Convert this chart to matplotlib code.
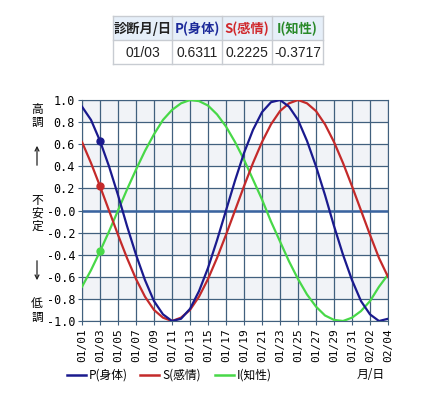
import matplotlib
matplotlib.use('Agg')
import matplotlib.pyplot as plt
import numpy as np

plt.rcParams['font.family'] = ['Noto Sans CJK JP', 'DejaVu Sans']

# 日付 (01/01 - 02/04)
dates = ['01/01', '01/02', '01/03', '01/04', '01/05', '01/06', '01/07', '01/08',
         '01/09', '01/10', '01/11', '01/12', '01/13', '01/14', '01/15', '01/16',
         '01/17', '01/18', '01/19', '01/20', '01/21', '01/22', '01/23', '01/24',
         '01/25', '01/26', '01/27', '01/28', '01/29', '01/30', '01/31', '02/01',
         '02/02', '02/03', '02/04']

# 身体 P
p_vals = [0.94, 0.82, 0.63, 0.40, 0.14, -0.14, -0.40, -0.63, -0.82, -0.94,
          -1.00, -0.98, -0.89, -0.73, -0.52, -0.27, 0.00, 0.27, 0.52, 0.73,
          0.89, 0.98, 1.00, 0.94, 0.82, 0.63, 0.40, 0.14, -0.14, -0.40,
          -0.63, -0.82, -0.94, -1.00, -0.98]
# 感情 S
s_vals = [0.62, 0.43, 0.22, 0.00, -0.22, -0.43, -0.62, -0.78, -0.90, -0.97,
          -1.00, -0.97, -0.90, -0.78, -0.62, -0.43, -0.22, 0.00, 0.22, 0.43,
          0.62, 0.78, 0.90, 0.97, 1.00, 0.97, 0.90, 0.78, 0.62, 0.43,
          0.22, 0.00, -0.22, -0.43, -0.60]
# 知性 I
i_vals = [-0.69, -0.54, -0.37, -0.19, 0.00, 0.19, 0.37, 0.54, 0.69, 0.82,
          0.91, 0.97, 1.00, 0.99, 0.95, 0.87, 0.76, 0.62, 0.46, 0.28,
          0.10, -0.10, -0.28, -0.46, -0.62, -0.76, -0.87, -0.95, -0.99, -1.00,
          -0.97, -0.91, -0.82, -0.69, -0.58]

diag_date = '01/03'
diag_vals = ['0.6311', '0.2225', '-0.3717']
headers = ['診断月/日', 'P(身体)', 'S(感情)', 'I(知性)']
header_colors = ['#222222', '#1c2a9a', '#d0282c', '#2a8a2a']
series_names = ['P(身体)', 'S(感情)', 'I(知性)']
series_colors = ['#1a1a8e', '#c42a2a', '#48d848']

W, H = 432, 400
fig = plt.figure(figsize=(W / 100, H / 100), dpi=100)

def fx(px):
    return px / W

def fy(py):
    return 1 - py / H

# 診断テーブル
col_x = [113, 172, 222, 272, 323]
row_y = [16, 40, 64]
tab = fig.add_axes([0, 0, 1, 1])
tab.set_xlim(0, W)
tab.set_ylim(H, 0)
tab.axis('off')
tab.add_patch(plt.Rectangle((col_x[0], row_y[0]), col_x[-1] - col_x[0],
                            row_y[1] - row_y[0], color='#e6eff9', lw=0))
for xx in col_x:
    tab.plot([xx, xx], [row_y[0], row_y[-1]], color='#c8ccd2', lw=1)
for yy in row_y:
    tab.plot([col_x[0], col_x[-1]], [yy, yy], color='#c8ccd2', lw=1)
row_vals = [diag_date] + diag_vals
for k in range(4):
    cx = (col_x[k] + col_x[k + 1]) / 2
    tab.text(cx, (row_y[0] + row_y[1]) / 2 + 1, headers[k], ha='center', va='center',
             fontsize=9.5, fontweight='bold', color=header_colors[k])
    tab.text(cx, (row_y[1] + row_y[2]) / 2 + 1, row_vals[k], ha='center', va='center',
             fontsize=10, color='#222222', family=['Liberation Sans'])

# グラフ本体
ax = fig.add_axes([fx(82), fy(321), fx(388) - fx(82), (321 - 100) / H])
x = np.arange(len(dates))
ax.set_xlim(0, len(dates) - 1)
ax.set_ylim(-1, 1)

grid_c = '#41607e'
yt = np.round(np.arange(-1.0, 1.01, 0.2), 1)
for j in range(10):
    lo = 1.0 - 0.2 * (j + 1)
    if j % 2 == 0:
        ax.axhspan(lo, lo + 0.2, color='#f1f3f7', lw=0, zorder=0)
for v in yt:
    ax.axhline(v, color=grid_c, lw=0.9, zorder=1)
for xi in range(0, len(dates), 2):
    ax.axvline(xi, color=grid_c, lw=0.9, zorder=1)
ax.axhline(0, color='#3a64a0', lw=1.8, zorder=2)

idx = dates.index(diag_date)
for vals, c in zip([i_vals, s_vals, p_vals], [series_colors[2], series_colors[1], series_colors[0]]):
    ax.plot(x, vals, color=c, lw=1.6, zorder=3)
    ax.plot(x[idx], vals[idx], 'o', color=c, ms=5, zorder=4)

for s in ax.spines.values():
    s.set_color(grid_c)

ax.set_yticks(yt)
ax.set_yticklabels(['%.1f' % v for v in yt], family='DejaVu Sans Mono', fontsize=8.5)
ax.set_xticks(x[::2])
ax.set_xticklabels(dates[::2], rotation=90, family='DejaVu Sans Mono', fontsize=8)
ax.tick_params(length=3, color=grid_c, pad=2)

# 左側の注記 (縦書き)
side_chars = [('高', 110), ('調', 122), ('不', 201), ('安', 213), ('定', 226),
              ('低', 304), ('調', 317)]
for ch, yy in side_chars:
    fig.text(fx(37), fy(yy), ch, ha='center', va='center', fontsize=8.5)
fig.add_artist(matplotlib.patches.FancyArrowPatch((fx(37), fy(168)), (fx(37), fy(143)),
               transform=fig.transFigure, arrowstyle='->', mutation_scale=7, lw=0.9, color='#222222'))
fig.add_artist(matplotlib.patches.FancyArrowPatch((fx(37), fy(258)), (fx(37), fy(283)),
               transform=fig.transFigure, arrowstyle='->', mutation_scale=7, lw=0.9, color='#222222'))

# 凡例
leg_x = [67, 140, 215]
for lx, name, c in zip(leg_x, series_names, series_colors):
    fig.add_artist(plt.Line2D([fx(lx), fx(lx + 19)], [fy(375), fy(375)], color=c, lw=1.8,
                              transform=fig.transFigure))
    fig.text(fx(lx + 22), fy(375), name, ha='left', va='center', fontsize=8.5)
fig.text(fx(357), fy(375), '月/日', ha='left', va='center', fontsize=8.5)

fig.savefig('out.png', dpi=100)
